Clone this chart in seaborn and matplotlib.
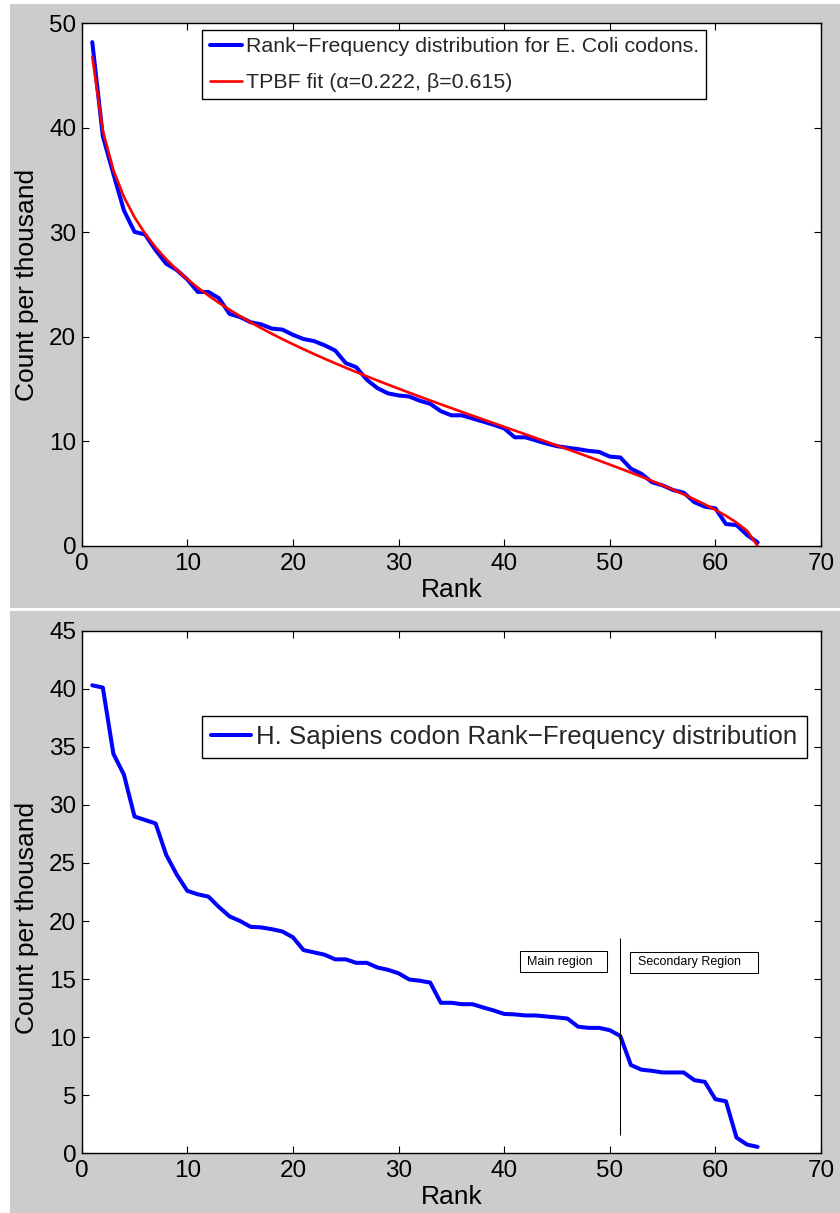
import numpy as np
import pandas as pd
import matplotlib
matplotlib.use("Agg")
import matplotlib.pyplot as plt
from matplotlib.patches import Rectangle
import seaborn as sns

# ---------------- data ----------------
ecoli_rank = list(range(1, 65))
ecoli_count = [48.2, 39.2, 35.6, 32.1, 30.05, 29.8, 28.3, 27.0, 26.4, 25.5,
               24.3, 24.3, 23.7, 22.2, 21.9, 21.4, 21.2, 20.8, 20.7, 20.2,
               19.8, 19.6, 19.2, 18.7, 17.5, 17.1, 15.9, 15.1, 14.6, 14.4,
               14.3, 13.9, 13.6, 12.9, 12.5, 12.5, 12.2, 11.9, 11.6, 11.25,
               10.4, 10.4, 10.1, 9.8, 9.55, 9.4, 9.27, 9.1, 9.0, 8.55,
               8.47, 7.4, 6.9, 6.1, 5.8, 5.35, 5.1, 4.2, 3.76, 3.6,
               2.1, 2.0, 1.05, 0.35]

fit_alpha = 0.222
fit_beta = 0.615

hsap_rank = list(range(1, 65))
hsap_count = [40.3, 40.1, 34.4, 32.6, 29.0, 28.7, 28.4, 25.7, 24.0, 22.6,
              22.3, 22.1, 21.2, 20.4, 20.0, 19.5, 19.45, 19.3, 19.1, 18.6,
              17.5, 17.3, 17.1, 16.7, 16.7, 16.4, 16.4, 16.0, 15.8, 15.5,
              14.97, 14.86, 14.7, 12.96, 12.96, 12.84, 12.84, 12.56, 12.3, 12.0,
              11.96, 11.87, 11.87, 11.78, 11.7, 11.6, 10.9, 10.8, 10.8, 10.6,
              10.1, 7.6, 7.2, 7.1, 6.96, 6.96, 6.96, 6.3, 6.15, 4.66,
              4.48, 1.35, 0.75, 0.55]

split_rank = 51
split_span = (1.6, 18.5)

x_ticks = [0, 10, 20, 30, 40, 50, 60, 70]
top_y_ticks = [0, 10, 20, 30, 40, 50]
bottom_y_ticks = [0, 5, 10, 15, 20, 25, 30, 35, 40, 45]

ecoli_label = "Rank\u2212Frequency distribution for E. Coli codons."
fit_label = f"TPBF fit (\u03b1={fit_alpha:.3f}, \u03b2={fit_beta:.3f})"
hsap_label = "H. Sapiens codon Rank\u2212Frequency distribution"

# two-parameter beta function fitted to the E. coli ranks (scale by least squares)
r = np.asarray(ecoli_rank, dtype=float)
n_codons = len(ecoli_rank)
shape = (n_codons - r) ** fit_beta / r ** fit_alpha
scale = np.dot(ecoli_count, shape) / np.dot(shape, shape)
fit_count = scale * shape

ecoli_df = pd.DataFrame({"rank": ecoli_rank, "count": ecoli_count})
fit_df = pd.DataFrame({"rank": ecoli_rank, "count": fit_count})
hsap_df = pd.DataFrame({"rank": hsap_rank, "count": hsap_count})

# ---------------- figure ----------------
sns.set_theme(style="ticks")
plt.rcParams["font.family"] = ["Liberation Sans", "DejaVu Sans"]

W, H = 840, 1213
fig = plt.figure(figsize=(W / 100, H / 100), dpi=100, facecolor="white")


def px_box(x0, y0, x1, y1):
    """pixel box (top-left origin) -> figure fraction [l, b, w, h]"""
    return [x0 / W, 1 - y1 / H, (x1 - x0) / W, (y1 - y0) / H]


PANEL_GREY = "#cccccc"
for box in [(10, 4, 840, 608), (10, 611, 840, 1213)]:
    l, b, w, h = px_box(*box)
    fig.add_artist(Rectangle((l, b), w, h, transform=fig.transFigure,
                             facecolor=PANEL_GREY, edgecolor="none", zorder=-10))

ax1 = fig.add_axes(px_box(81.7, 23.3, 821, 546))
ax2 = fig.add_axes(px_box(81.7, 630.7, 821, 1153.3))


def style_axes(ax, y_ticks, ylabel_y):
    ax.set_facecolor("white")
    ax.set_xlim(x_ticks[0], x_ticks[-1])
    ax.set_ylim(y_ticks[0], y_ticks[-1])
    ax.set_xticks(x_ticks)
    ax.set_yticks(y_ticks)
    ax.tick_params(axis="both", which="major", direction="in", length=4.7,
                   width=0.8, top=True, right=True, labelsize=17.5,
                   color="black", labelcolor="black")
    ax.tick_params(axis="x", pad=5)
    ax.tick_params(axis="y", pad=4)
    for s in ax.spines.values():
        s.set_visible(True)
        s.set_color("black")
        s.set_linewidth(1.0)
    ax.set_xlabel("Rank", fontsize=19, color="black", labelpad=2)
    ax.set_ylabel("Count per thousand", fontsize=19, color="black")
    ax.yaxis.set_label_coords(-0.058, ylabel_y)


# ---- top panel: E. coli ----
sns.lineplot(data=ecoli_df, x="rank", y="count", ax=ax1, color="#0000ff",
             linewidth=2.9, label=ecoli_label, zorder=2)
sns.lineplot(data=fit_df, x="rank", y="count", ax=ax1, color="#ff0000",
             linewidth=1.9, label=fit_label, zorder=3)
style_axes(ax1, top_y_ticks, 0.5)
leg1 = ax1.legend(loc="upper left", bbox_to_anchor=(0.1631, 0.9872),
                  prop=dict(size=15.4),
                  frameon=True, fancybox=False, edgecolor="black", framealpha=1,
                  borderpad=0.34, labelspacing=0.79, handlelength=1.5,
                  handletextpad=0.19, borderaxespad=0)
leg1.get_frame().set_linewidth(1.0)

# ---- bottom panel: H. sapiens ----
sns.lineplot(data=hsap_df, x="rank", y="count", ax=ax2, color="#0000ff",
             linewidth=2.9, label=hsap_label, zorder=2)
style_axes(ax2, bottom_y_ticks, 0.45)
leg2 = ax2.legend(loc="upper left", bbox_to_anchor=(0.1623, 0.8374),
                  prop=dict(size=18.6), frameon=True, fancybox=False,
                  edgecolor="black", framealpha=1, borderpad=0.36,
                  handlelength=1.55, handletextpad=0.2, borderaxespad=0)
leg2.get_frame().set_linewidth(1.0)

ax2.vlines(split_rank, *split_span, color="black", linewidth=0.75, zorder=4)

# region text boxes
for (x0, x1, y0, y1, tx, label) in [(41.47, 49.78, 15.6, 17.42, 42.2, "Main region"),
                                    (51.96, 64.06, 15.52, 17.35, 52.68, "Secondary Region")]:
    ax2.add_patch(Rectangle((x0, y0), x1 - x0, y1 - y0, facecolor="white",
                            edgecolor="black", linewidth=0.75, zorder=5))
    ax2.text(tx, (y0 + y1) / 2, label, fontsize=9, ha="left", va="center",
             color="black", zorder=6)

fig.savefig("out.png", dpi=100, facecolor=fig.get_facecolor())
